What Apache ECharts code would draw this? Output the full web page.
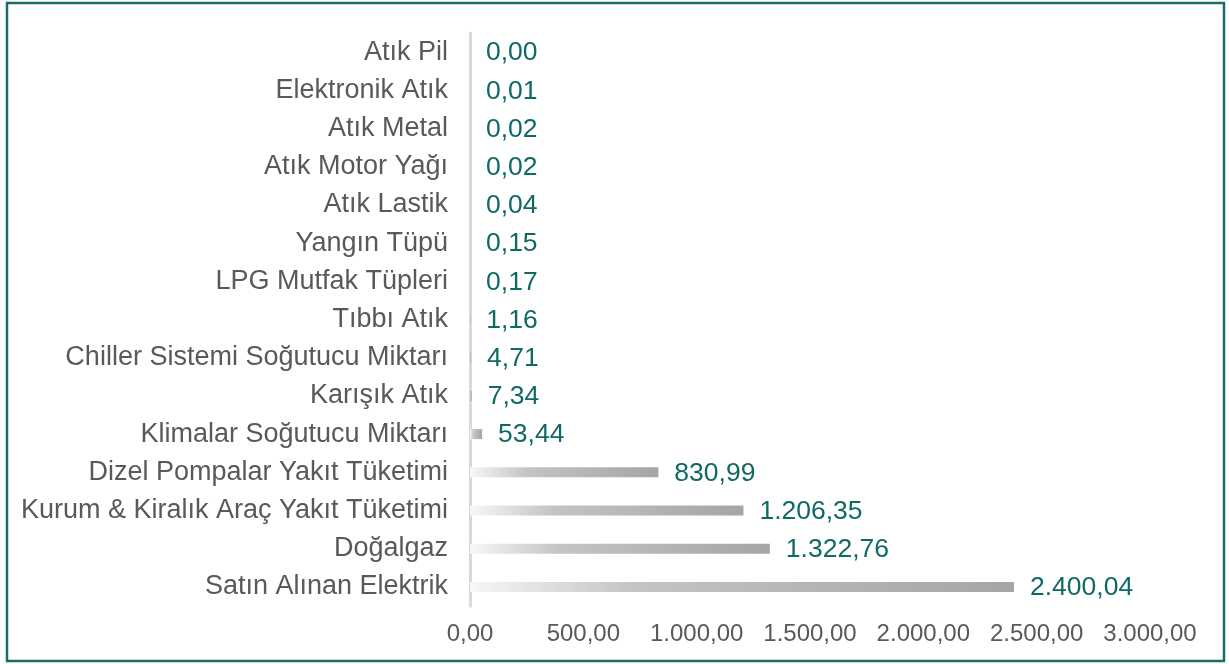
<!DOCTYPE html>
<html><head><meta charset="utf-8">
<script src="https://cdn.jsdelivr.net/npm/echarts@6/dist/echarts.min.js"></script>
<style>html,body{margin:0;padding:0;background:#fff}#c{width:1229px;height:664px}</style>
</head><body><div id="c"></div>
<script>
const categories = ["Satın Alınan Elektrik","Doğalgaz","Kurum & Kiralık Araç Yakıt Tüketimi","Dizel Pompalar Yakıt Tüketimi","Klimalar Soğutucu Miktarı","Karışık Atık","Chiller Sistemi Soğutucu Miktarı","Tıbbı Atık","LPG Mutfak Tüpleri","Yangın Tüpü","Atık Lastik","Atık Motor Yağı","Atık Metal","Elektronik Atık","Atık Pil"];
const values = [2400.04,1322.76,1206.35,830.99,53.44,7.34,4.71,1.16,0.17,0.15,0.04,0.02,0.02,0.01,0.00];
const xTicks = [0,500,1000,1500,2000,2500,3000];

function trFmt(v){
  const s = Math.abs(v).toFixed(2).split('.');
  const int = s[0].replace(/\B(?=(\d{3})+(?!\d))/g,'.');
  return (v<0?'-':'')+int+','+s[1];
}
const chart = echarts.init(document.getElementById('c'));
chart.setOption({
  animation:false,
  grid:{left:470,right:79,top:33,bottom:58,containLabel:false},
  xAxis:{type:'value',min:xTicks[0],max:xTicks[xTicks.length-1],interval:500,
    axisLine:{show:false},axisTick:{show:false},splitLine:{show:false},
    axisLabel:{formatter:trFmt,color:'#595959',fontSize:24,fontFamily:'Liberation Sans, Arial',margin:16}},
  yAxis:{type:'category',data:categories,
    axisLine:{show:true,lineStyle:{color:'#d9d9d9',width:3}},axisTick:{show:false},
    axisLabel:{color:'#595959',fontSize:27,fontFamily:'Liberation Sans, Arial',margin:22}},
  series:[{type:'bar',data:values,barWidth:10,
    itemStyle:{color:new echarts.graphic.LinearGradient(0,0,1,0,[
      {offset:0,color:'#f7f7f7'},{offset:0.3,color:'#c4c4c4'},{offset:1,color:'#a5a5a5'}])},
    label:{show:true,position:'right',distance:16,offset:[0,1],color:'#0f6a66',fontSize:26.5,fontFamily:'Liberation Sans, Arial',
      formatter:p=>trFmt(p.value)}}],
  graphic:[{type:'rect',shape:{x:7,y:3,width:1217,height:658},style:{fill:'none',stroke:'#1b6b67',lineWidth:2.5},silent:true}]
});
</script></body></html>
